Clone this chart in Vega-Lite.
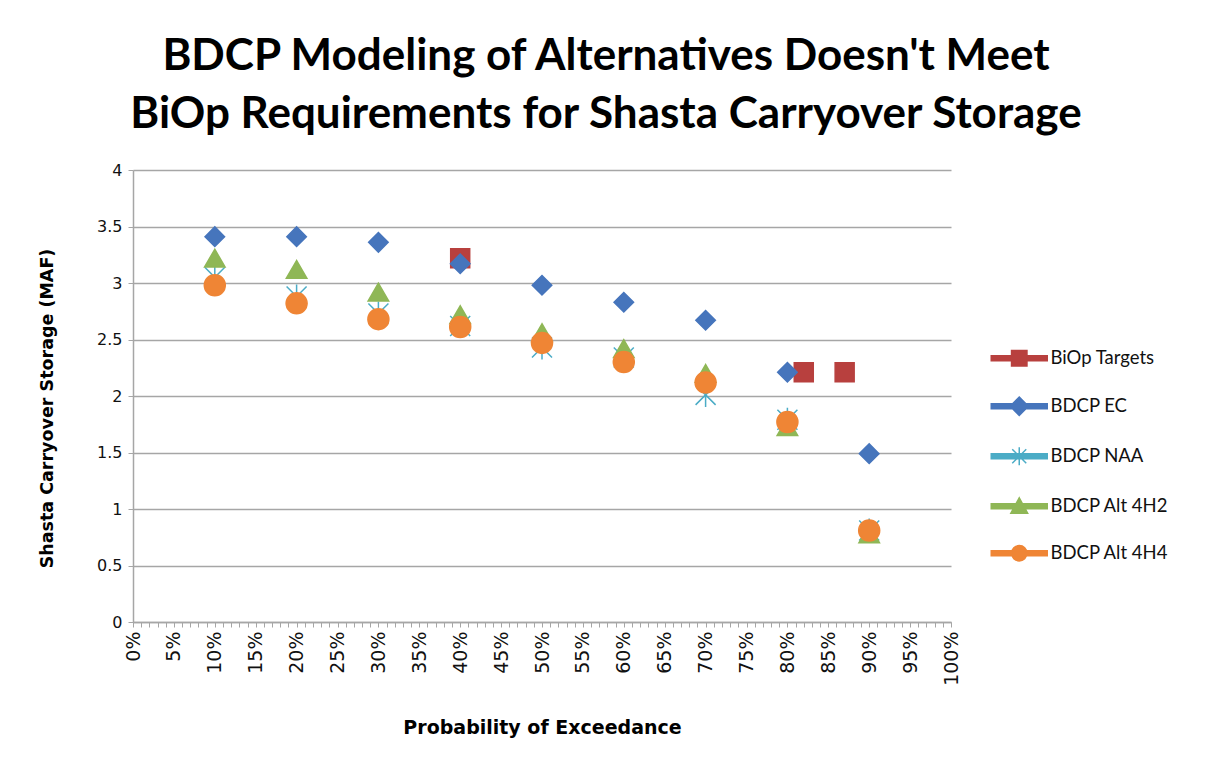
{
  "$schema": "https://vega.github.io/schema/vega-lite/v6.json",
  "width": 818,
  "height": 452,
  "autosize": "none",
  "padding": {"left": 133, "top": 170, "right": 258, "bottom": 141},
  "background": "white",
  "config": {"view": {"stroke": null}, "font": "Lato"},
  "title": {
    "text": ["BDCP Modeling of Alternatives Doesn't Meet", "BiOp Requirements for Shasta Carryover Storage"],
    "fontSize": 44,
    "fontWeight": "bold",
    "font": "Lato",
    "color": "#000000",
    "lineHeight": 58,
    "anchor": "middle",
    "frame": "group",
    "dx": 64,
    "offset": 25
  },
  "data": {
    "values": [
      {"series": "BiOp Targets", "exceedance": 0.40, "storage": 3.22},
      {"series": "BiOp Targets", "exceedance": 0.82, "storage": 2.21},
      {"series": "BiOp Targets", "exceedance": 0.87, "storage": 2.21},
      {"series": "BDCP EC", "exceedance": 0.10, "storage": 3.41},
      {"series": "BDCP EC", "exceedance": 0.20, "storage": 3.41},
      {"series": "BDCP EC", "exceedance": 0.30, "storage": 3.36},
      {"series": "BDCP EC", "exceedance": 0.40, "storage": 3.17},
      {"series": "BDCP EC", "exceedance": 0.50, "storage": 2.98},
      {"series": "BDCP EC", "exceedance": 0.60, "storage": 2.83},
      {"series": "BDCP EC", "exceedance": 0.70, "storage": 2.67},
      {"series": "BDCP EC", "exceedance": 0.80, "storage": 2.21},
      {"series": "BDCP EC", "exceedance": 0.90, "storage": 1.49},
      {"series": "BDCP NAA", "exceedance": 0.10, "storage": 3.05},
      {"series": "BDCP NAA", "exceedance": 0.20, "storage": 2.88},
      {"series": "BDCP NAA", "exceedance": 0.30, "storage": 2.73},
      {"series": "BDCP NAA", "exceedance": 0.40, "storage": 2.62},
      {"series": "BDCP NAA", "exceedance": 0.50, "storage": 2.43},
      {"series": "BDCP NAA", "exceedance": 0.60, "storage": 2.34},
      {"series": "BDCP NAA", "exceedance": 0.70, "storage": 2.01},
      {"series": "BDCP NAA", "exceedance": 0.80, "storage": 1.79},
      {"series": "BDCP NAA", "exceedance": 0.90, "storage": 0.81},
      {"series": "BDCP Alt 4H2", "exceedance": 0.10, "storage": 3.22},
      {"series": "BDCP Alt 4H2", "exceedance": 0.20, "storage": 3.12},
      {"series": "BDCP Alt 4H2", "exceedance": 0.30, "storage": 2.92},
      {"series": "BDCP Alt 4H2", "exceedance": 0.40, "storage": 2.72},
      {"series": "BDCP Alt 4H2", "exceedance": 0.50, "storage": 2.56},
      {"series": "BDCP Alt 4H2", "exceedance": 0.60, "storage": 2.42},
      {"series": "BDCP Alt 4H2", "exceedance": 0.70, "storage": 2.20},
      {"series": "BDCP Alt 4H2", "exceedance": 0.80, "storage": 1.73},
      {"series": "BDCP Alt 4H2", "exceedance": 0.90, "storage": 0.78},
      {"series": "BDCP Alt 4H4", "exceedance": 0.10, "storage": 2.98},
      {"series": "BDCP Alt 4H4", "exceedance": 0.20, "storage": 2.82},
      {"series": "BDCP Alt 4H4", "exceedance": 0.30, "storage": 2.68},
      {"series": "BDCP Alt 4H4", "exceedance": 0.40, "storage": 2.61},
      {"series": "BDCP Alt 4H4", "exceedance": 0.50, "storage": 2.47},
      {"series": "BDCP Alt 4H4", "exceedance": 0.60, "storage": 2.30},
      {"series": "BDCP Alt 4H4", "exceedance": 0.70, "storage": 2.12},
      {"series": "BDCP Alt 4H4", "exceedance": 0.80, "storage": 1.77},
      {"series": "BDCP Alt 4H4", "exceedance": 0.90, "storage": 0.81}
    ]
  },
  "encoding": {
    "x": {
      "field": "exceedance",
      "type": "quantitative",
      "scale": {"domain": [0, 1], "nice": false, "zero": false},
      "axis": {
        "values": [0,0.01,0.02,0.03,0.04,0.05,0.06,0.07,0.08,0.09,0.1,0.11,0.12,0.13,0.14,0.15,0.16,0.17,0.18,0.19,0.2,0.21,0.22,0.23,0.24,0.25,0.26,0.27,0.28,0.29,0.3,0.31,0.32,0.33,0.34,0.35,0.36,0.37,0.38,0.39,0.4,0.41,0.42,0.43,0.44,0.45,0.46,0.47,0.48,0.49,0.5,0.51,0.52,0.53,0.54,0.55,0.56,0.57,0.58,0.59,0.6,0.61,0.62,0.63,0.64,0.65,0.66,0.67,0.68,0.69,0.7,0.71,0.72,0.73,0.74,0.75,0.76,0.77,0.78,0.79,0.8,0.81,0.82,0.83,0.84,0.85,0.86,0.87,0.88,0.89,0.9,0.91,0.92,0.93,0.94,0.95,0.96,0.97,0.98,0.99,1],
        "labelExpr": "round(datum.value*100) % 5 == 0 ? format(datum.value, '.0%') : ''",
        "labelOverlap": false,
        "labelBound": false,
        "labelFlush": false,
        "labelAngle": 270,
        "labelFont": "DejaVu Sans",
        "labelFontSize": 19,
        "labelColor": "#111111",
        "labelPadding": 4,
        "grid": false,
        "domainColor": "#A6A6A6",
        "domainWidth": 1.5,
        "tickColor": "#A6A6A6",
        "tickSize": 5,
        "title": "Probability of Exceedance",
        "titleFont": "DejaVu Sans",
        "titleFontSize": 19,
        "titleFontWeight": "bold",
        "titleColor": "#000000",
        "titlePadding": 33
      }
    },
    "y": {
      "field": "storage",
      "type": "quantitative",
      "scale": {"domain": [0, 4], "nice": false},
      "axis": {
        "values": [0, 0.5, 1, 1.5, 2, 2.5, 3, 3.5, 4],
        "format": "~g",
        "grid": true,
        "gridColor": "#A6A6A6",
        "gridWidth": 1.5,
        "domainColor": "#A6A6A6",
        "domainWidth": 1.5,
        "tickColor": "#A6A6A6",
        "tickSize": 5,
        "labelFont": "DejaVu Sans",
        "labelFontSize": 16,
        "labelColor": "#111111",
        "labelPadding": 6,
        "title": "Shasta  Carryover Storage (MAF)",
        "titleFont": "DejaVu Sans",
        "titleFontSize": 17.5,
        "titleFontWeight": "bold",
        "titleColor": "#000000",
        "titlePadding": 40,
        "titleY": 238
      }
    }
  },
  "layer": [
    {
      "mark": {"type": "point", "filled": true, "strokeWidth": 1.5, "opacity": 1},
      "encoding": {
        "color": {
          "field": "series",
          "type": "nominal",
          "scale": {
            "domain": ["BiOp Targets", "BDCP EC", "BDCP NAA", "BDCP Alt 4H2", "BDCP Alt 4H4"],
            "range": ["#B8403E", "#4675BC", "#4BACC6", "#8FB756", "#EF8535"]
          },
          "legend": null
        },
        "stroke": {
          "field": "series",
          "type": "nominal",
          "scale": {
            "domain": ["BiOp Targets", "BDCP EC", "BDCP NAA", "BDCP Alt 4H2", "BDCP Alt 4H4"],
            "range": ["#B8403E", "#4675BC", "#4BACC6", "#8FB756", "#EF8535"]
          },
          "legend": null
        },
        "shape": {
          "field": "series",
          "type": "nominal",
          "scale": {
            "domain": ["BiOp Targets", "BDCP EC", "BDCP NAA", "BDCP Alt 4H2", "BDCP Alt 4H4"],
            "range": ["square", "diamond", "M-1,-1L1,1M-1,1L1,-1M0,-1.2L0,1.2", "triangle-up", "circle"]
          },
          "legend": null
        },
        "size": {
          "field": "series",
          "type": "nominal",
          "scale": {
            "domain": ["BiOp Targets", "BDCP EC", "BDCP NAA", "BDCP Alt 4H2", "BDCP Alt 4H4"],
            "range": [361, 441, 300, 400, 380]
          },
          "legend": null
        }
      }
    },
    {
      "transform": [{"filter": "false"}],
      "mark": {"type": "point", "filled": true, "strokeWidth": 1.5, "opacity": 1},
      "encoding": {
        "color": {
          "field": "series",
          "type": "nominal",
          "scale": {
            "domain": ["BiOp Targets", "BDCP EC", "BDCP NAA", "BDCP Alt 4H2", "BDCP Alt 4H4"],
            "range": ["#B8403E", "#4675BC", "#4BACC6", "#8FB756", "#EF8535"]
          },
          "legend": {
            "orient": "none",
            "legendX": 877,
            "legendY": 179,
            "title": null,
            "labelFont": "Lato",
            "labelFontSize": 18.5,
            "labelColor": "#111111",
            "symbolSize": 196,
            "symbolStrokeWidth": 1.5,
            "rowPadding": 25,
            "labelOffset": 22
          }
        },
        "stroke": {
          "field": "series",
          "type": "nominal",
          "scale": {
            "domain": ["BiOp Targets", "BDCP EC", "BDCP NAA", "BDCP Alt 4H2", "BDCP Alt 4H4"],
            "range": ["#B8403E", "#4675BC", "#4BACC6", "#8FB756", "#EF8535"]
          },
          "legend": {
            "orient": "none",
            "legendX": 877,
            "legendY": 179,
            "title": null,
            "labelFont": "Lato",
            "labelFontSize": 18.5,
            "labelColor": "#111111",
            "symbolSize": 196,
            "symbolStrokeWidth": 1.5,
            "rowPadding": 25,
            "labelOffset": 22
          }
        },
        "shape": {
          "field": "series",
          "type": "nominal",
          "scale": {
            "domain": ["BiOp Targets", "BDCP EC", "BDCP NAA", "BDCP Alt 4H2", "BDCP Alt 4H4"],
            "range": [
              "M-4,-0.36L4,-0.36L4,0.36L-4,0.36ZM-1.1,-1.1L1.1,-1.1L1.1,1.1L-1.1,1.1Z",
              "M-4,-0.36L4,-0.36L4,0.36L-4,0.36ZM0,-1.3L1.3,0L0,1.3L-1.3,0Z",
              "M-4,-0.36L4,-0.36L4,0.36L-4,0.36ZM-1,-1L1,1M-1,1L1,-1M0,-1.3L0,1.3",
              "M-4,-0.36L4,-0.36L4,0.36L-4,0.36ZM0,-1.2L1.2,1L-1.2,1Z",
              "M-4,-0.36L4,-0.36L4,0.36L-4,0.36ZM-1.1,0A1.1,1.1 0 1 1 1.1,0A1.1,1.1 0 1 1 -1.1,0Z"
            ]
          },
          "legend": {
            "orient": "none",
            "legendX": 877,
            "legendY": 179,
            "title": null,
            "labelFont": "Lato",
            "labelFontSize": 18.5,
            "labelColor": "#111111",
            "symbolSize": 196,
            "symbolStrokeWidth": 1.5,
            "rowPadding": 25,
            "labelOffset": 22
          }
        }
      }
    }
  ],
  "resolve": {"scale": {"color": "independent", "stroke": "independent", "shape": "independent", "size": "independent"}}
}
